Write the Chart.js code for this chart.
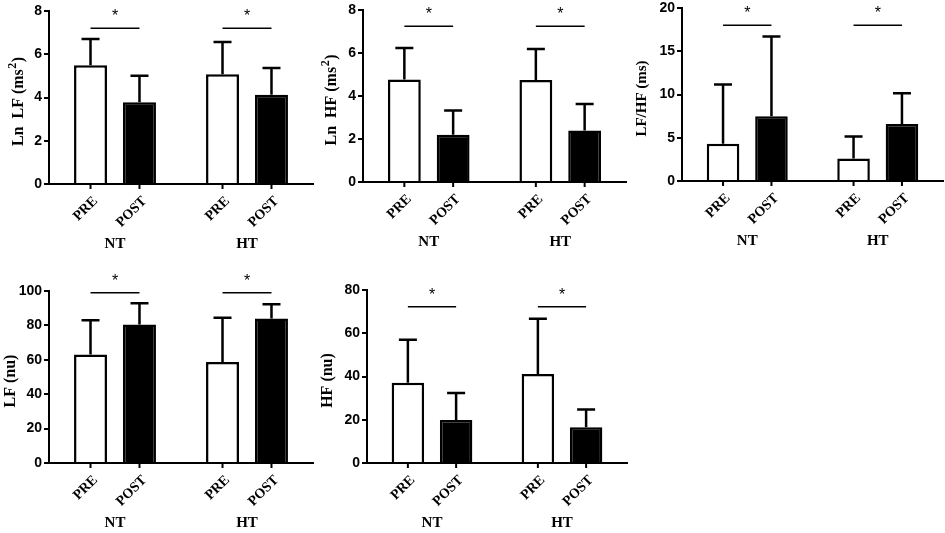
<!DOCTYPE html>
<html>
<head>
<meta charset="utf-8">
<script src="https://cdn.jsdelivr.net/npm/chart.js@4.4.1/dist/chart.umd.min.js"></script>
<style>
  html, body { margin: 0; padding: 0; background: #fff; }
  body { position: relative; width: 945px; height: 533px; overflow: hidden; }
  canvas { position: absolute; }
</style>
</head>
<body>
<canvas id="lnlf"></canvas>
<canvas id="lnhf"></canvas>
<canvas id="lfhf"></canvas>
<canvas id="lfnu"></canvas>
<canvas id="hfnu"></canvas>
<script>
// ---- data ----
const groups = ['NT', 'HT'];
const phases = ['PRE', 'POST'];

// Ln LF (ms2)
const lnLfPre = [5.49, 5.08];
const lnLfPost = [3.78, 4.13];
const lnLfPreSd = [1.21, 1.49];
const lnLfPostSd = [1.23, 1.23];

// Ln HF (ms2)
const lnHfPre = [4.77, 4.74];
const lnHfPost = [2.2, 2.4];
const lnHfPreSd = [1.46, 1.45];
const lnHfPostSd = [1.12, 1.23];

// LF/HF (ms)
const lfHfPre = [4.3, 2.6];
const lfHfPost = [7.5, 6.6];
const lfHfPreSd = [6.85, 2.55];
const lfHfPostSd = [9.2, 3.55];

// LF (nu)
const lfNuPre = [63.1, 58.7];
const lfNuPost = [80.5, 84.0];
const lfNuPreSd = [19.9, 25.7];
const lfNuPostSd = [12.4, 8.3];

// HF (nu)
const hfNuPre = [37.1, 41.2];
const hfNuPost = [19.9, 16.5];
const hfNuPreSd = [19.9, 25.5];
const hfNuPostSd = [12.5, 8.2];

// height of the significance bar in each panel
const sigLevel = [7.2, 7.25, 18, 99, 72.3];

const SANS = '"Liberation Sans", Arial, sans-serif';
const SERIF = '"Liberation Serif", "Times New Roman", serif';

// panel set-up: chart area box on the page, axis range, y title (text + superscript + tail)
const panels = [
  { id: 'lnlf', title: ['Ln  LF (ms', '2', ')'], pre: lnLfPre, post: lnLfPost, sd: [lnLfPreSd, lnLfPostSd], max: 8, step: 2, sig: sigLevel[0], box: [49, 11, 313, 184], titleX: 19, titleSize: 16 },
  { id: 'lnhf', title: ['Ln  HF (ms', '2', ')'], pre: lnHfPre, post: lnHfPost, sd: [lnHfPreSd, lnHfPostSd], max: 8, step: 2, sig: sigLevel[1], box: [363, 10, 626, 182], titleX: 18, titleSize: 16 },
  { id: 'lfhf', title: ['LF/HF (ms)', '', ''], pre: lfHfPre, post: lfHfPost, sd: [lfHfPreSd, lfHfPostSd], max: 20, step: 5, sig: sigLevel[2], box: [682, 8, 943, 181], titleX: 9, titleSize: 15 },
  { id: 'lfnu', title: ['LF (nu)', '', ''], pre: lfNuPre, post: lfNuPost, sd: [lfNuPreSd, lfNuPostSd], max: 100, step: 20, sig: sigLevel[3], box: [49, 291, 313, 463], titleX: 11, titleSize: 16 },
  { id: 'hfnu', title: ['HF (nu)', '', ''], pre: hfNuPre, post: hfNuPost, sd: [hfNuPreSd, hfNuPostSd], max: 80, step: 20, sig: sigLevel[4], box: [367, 290, 627, 463], titleX: 10, titleSize: 16 }
];

const AXIS_W = 49;   // y axis box width
const PAD_TOP = 20;  // room above plot for asterisks
const X_H = 80;      // x axis box height

// error bars, tick marks, rotated labels, y title and significance marks
const decor = {
  id: 'decor',
  afterDraw(chart, args, opts) {
    const { ctx, chartArea, scales } = chart;
    const y = scales.y, x = scales.x;
    const bottom = chartArea.bottom;
    ctx.save();
    ctx.strokeStyle = '#000';
    ctx.fillStyle = '#000';

    chart.data.datasets.forEach((ds, i) => {
      const meta = chart.getDatasetMeta(i);
      meta.data.forEach((bar, j) => {
        // upper SD bar
        const yTop = y.getPixelForValue(ds.data[j] + opts.sd[i][j]);
        ctx.lineWidth = 2.5;
        ctx.beginPath();
        ctx.moveTo(bar.x, bar.y);
        ctx.lineTo(bar.x, yTop);
        ctx.moveTo(bar.x - 9, yTop);
        ctx.lineTo(bar.x + 9, yTop);
        ctx.stroke();

        // tick under the bar
        ctx.lineWidth = 2;
        ctx.beginPath();
        ctx.moveTo(bar.x, bottom);
        ctx.lineTo(bar.x, bottom + 5);
        ctx.stroke();

        // rotated phase label
        ctx.save();
        ctx.translate(bar.x + 5, bottom + 15);
        ctx.rotate(-Math.PI / 4);
        ctx.font = 'bold 14px ' + SERIF;
        ctx.textAlign = 'right';
        ctx.textBaseline = 'middle';
        ctx.fillText(ds.label, 0, 0);
        ctx.restore();
      });
    });

    // group labels
    ctx.font = 'bold 15px ' + SERIF;
    ctx.textAlign = 'center';
    ctx.textBaseline = 'middle';
    groups.forEach((g, j) => {
      ctx.fillText(g, x.getPixelForValue(j), bottom + 60);
    });

    // significance bars
    const m0 = chart.getDatasetMeta(0), m1 = chart.getDatasetMeta(1);
    const ys = y.getPixelForValue(opts.sig);
    groups.forEach((g, j) => {
      const x1 = m0.data[j].x, x2 = m1.data[j].x;
      ctx.lineWidth = 1.5;
      ctx.beginPath();
      ctx.moveTo(x1, ys);
      ctx.lineTo(x2, ys);
      ctx.stroke();
      ctx.font = '16px ' + SANS;
      ctx.textAlign = 'center';
      ctx.textBaseline = 'alphabetic';
      ctx.fillText('*', (x1 + x2) / 2, ys - 7);
    });

    // y title with superscript, rotated
    const [main, sup, tail] = opts.title;
    const fs = opts.titleSize;
    const bodyFont = 'bold ' + fs + 'px ' + SERIF;
    const supFont = 'bold ' + Math.round(fs * 0.75) + 'px ' + SERIF;
    ctx.font = bodyFont;
    const w1 = ctx.measureText(main).width;
    const w3 = ctx.measureText(tail).width;
    ctx.font = supFont;
    const w2 = sup ? ctx.measureText(sup).width + 1 : 0;
    const total = w1 + w2 + w3;
    ctx.translate(opts.titleX, (chartArea.top + chartArea.bottom) / 2 + 4);
    ctx.rotate(-Math.PI / 2);
    ctx.textAlign = 'left';
    ctx.textBaseline = 'middle';
    let cx = -total / 2;
    ctx.font = bodyFont;
    ctx.fillText(main, cx, 0);
    cx += w1;
    if (sup) {
      ctx.font = supFont;
      ctx.fillText(sup, cx + 0.5, -fs * 0.35);
      cx += w2;
    }
    ctx.font = bodyFont;
    ctx.fillText(tail, cx, 0);
    ctx.restore();
  }
};

panels.forEach(p => {
  const [l, t, r, b] = p.box;
  const cv = document.getElementById(p.id);
  const left = l - AXIS_W, top = t - PAD_TOP;
  const w = r - left + 4, h = b - top + X_H;
  cv.width = w; cv.height = h;
  cv.style.left = left + 'px';
  cv.style.top = top + 'px';
  cv.style.width = w + 'px';
  cv.style.height = h + 'px';

  new Chart(cv, {
    type: 'bar',
    data: {
      labels: groups,
      datasets: [
        { label: phases[0], data: p.pre, backgroundColor: '#fff', borderColor: '#000', borderWidth: 2.5 },
        { label: phases[1], data: p.post, backgroundColor: '#000', borderColor: '#000', borderWidth: 2.5 }
      ]
    },
    options: {
      responsive: false,
      animation: false,
      devicePixelRatio: 1,
      categoryPercentage: 0.742,
      barPercentage: 0.673,
      layout: { padding: { top: PAD_TOP, right: 4, bottom: 0, left: 0 } },
      plugins: {
        legend: { display: false },
        tooltip: { enabled: false },
        decor: { sd: p.sd, sig: p.sig, title: p.title, titleX: p.titleX, titleSize: p.titleSize }
      },
      scales: {
        x: {
          ticks: { display: false },
          grid: { display: false },
          border: { display: true, color: '#000', width: 2 },
          afterFit: s => { s.height = X_H; s.paddingLeft = 0; s.paddingRight = 0; }
        },
        y: {
          min: 0,
          max: p.max,
          ticks: { stepSize: p.step, color: '#000', padding: 2, font: { family: SANS, size: 14, weight: 'bold' } },
          grid: { drawOnChartArea: false, drawTicks: true, tickLength: 5, color: '#000', lineWidth: 2 },
          border: { display: true, color: '#000', width: 2 },
          title: { display: false },
          afterFit: s => { s.width = AXIS_W; s.paddingTop = 0; s.paddingBottom = 0; }
        }
      }
    },
    plugins: [decor]
  });
});
</script>
</body>
</html>
